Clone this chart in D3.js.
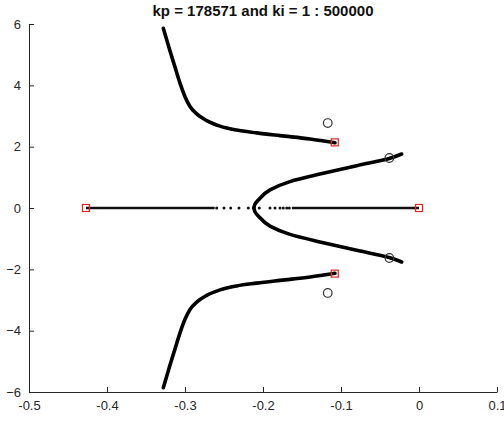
<!DOCTYPE html>
<html>
<head>
<meta charset="utf-8">
<script src="https://cdn.jsdelivr.net/npm/d3@7"></script>
<style>
  body { margin: 0; background: #fff; }
  text { font-family: "Liberation Sans", Arial, sans-serif; }
</style>
</head>
<body>
<div id="chart"></div>
<script>
// set the dimensions and margins of the graph
var margin = {top: 24, right: 7, bottom: 30, left: 29},
    width = 504 - margin.left - margin.right,
    height = 422 - margin.top - margin.bottom;

var titleText = "kp = 178571 and ki = 1 : 500000";
var xTicks = [-0.5, -0.4, -0.3, -0.2, -0.1, 0, 0.1];
var xTickLabels = ["-0.5", "-0.4", "-0.3", "-0.2", "-0.1", "0", "0.1"];
var yTicks = [-6, -4, -2, 0, 2, 4, 6];

// outer branch (upper half), from top down to the pole
var outerX = [-0.3278, -0.3196, -0.3130, -0.3064, -0.3000, -0.2936, -0.2850, -0.2722,
              -0.2551, -0.2337, -0.2081, -0.1782, -0.1397, -0.1077];
var outerY = [5.86, 5.15, 4.61, 4.07, 3.63, 3.31, 3.07, 2.85,
              2.67, 2.54, 2.45, 2.36, 2.25, 2.13];

// inner branch (upper half), from breakaway to end
var innerX = [-0.2115, -0.2102, -0.2060, -0.1910, -0.1654, -0.1227, -0.0799, -0.0372, -0.0222];
var innerY = [0, 0.13, 0.26, 0.59, 0.86, 1.13, 1.38, 1.62, 1.76];

// real axis: dense parts and sparse dots
var axisDense = [[-0.427, -0.262], [-0.163, 0]];
var axisDots = [-0.2594, -0.2500, -0.2414, -0.2308, -0.2188, -0.2124,
                -0.2047, -0.1910, -0.1846, -0.1782, -0.1740, -0.1696, -0.1663];

// poles and zeros
var polesX = [-0.427, 0, -0.108, -0.108];
var polesY = [0, 0, 2.14, -2.14];
var zerosX = [-0.117, -0.117, -0.038, -0.038];
var zerosY = [2.77, -2.77, 1.63, -1.63];

var svg = d3.select("#chart")
  .append("svg")
    .attr("width", width + margin.left + margin.right)
    .attr("height", height + margin.top + margin.bottom)
  .append("g")
    .attr("transform", "translate(" + margin.left + "," + margin.top + ")");

var x = d3.scaleLinear().domain([-0.5, 0.1]).range([0, width]);
var y = d3.scaleLinear().domain([-6, 6]).range([height, 0]);

// axes (MATLAB style: ticks inside)
var xAxis = svg.append("g")
  .attr("transform", "translate(0," + height + ")")
  .call(d3.axisBottom(x).tickValues(xTicks).tickSizeInner(-5).tickSizeOuter(0)
        .tickPadding(9).tickFormat(function(d, i) { return xTickLabels[i]; }));
var yAxis = svg.append("g")
  .call(d3.axisLeft(y).tickValues(yTicks).tickSizeInner(-5).tickSizeOuter(0)
        .tickPadding(8));

[xAxis, yAxis].forEach(function(a) {
  a.selectAll("path, line").attr("stroke", "#262626").attr("stroke-width", 1);
  a.selectAll("text").attr("fill", "#262626").style("font-size", "13px");
});

svg.append("text")
  .attr("x", width / 2)
  .attr("y", -8)
  .attr("text-anchor", "middle")
  .style("font-size", "15px")
  .style("font-weight", "bold")
  .attr("fill", "#111")
  .text(titleText);

var lineX = d3.line()
  .x(function(d) { return x(d[0]); })
  .y(function(d) { return y(d[1]); })
  .curve(d3.curveMonotoneX);

var lineY = d3.line()
  .x(function(d) { return x(d[0]); })
  .y(function(d) { return y(d[1]); })
  .curve(d3.curveMonotoneY);

var outerUp = outerX.map(function(v, i) { return [v, outerY[i]]; });
var outerDown = outerX.map(function(v, i) { return [v, -outerY[i]]; });
// inner branch ordered top to bottom so screen y only grows
var innerUp = innerX.map(function(v, i) { return [v, innerY[i]]; }).reverse();
var innerDown = innerX.map(function(v, i) { return [v, -innerY[i]]; }).slice(1);
var inner = innerUp.concat(innerDown);

// real axis dense parts
svg.selectAll(".dense")
  .data(axisDense)
  .enter()
  .append("line")
    .attr("x1", function(d) { return x(d[0]); })
    .attr("x2", function(d) { return x(d[1]); })
    .attr("y1", y(0))
    .attr("y2", y(0))
    .attr("stroke", "#111")
    .attr("stroke-width", 2.6);

svg.selectAll(".adot")
  .data(axisDots)
  .enter()
  .append("circle")
    .attr("cx", function(d) { return x(d); })
    .attr("cy", y(0))
    .attr("r", 1.5)
    .attr("fill", "#111");

[outerUp, outerDown].forEach(function(pts) {
  svg.append("path")
    .datum(pts)
    .attr("fill", "none")
    .attr("stroke", "#000")
    .attr("stroke-width", 3.6)
    .attr("stroke-linecap", "round")
    .attr("stroke-linejoin", "round")
    .attr("d", lineX);
});

svg.append("path")
  .datum(inner)
  .attr("fill", "none")
  .attr("stroke", "#000")
  .attr("stroke-width", 3.6)
  .attr("stroke-linecap", "round")
  .attr("stroke-linejoin", "round")
  .attr("d", lineY);

// zeros
svg.selectAll(".zero")
  .data(zerosX)
  .enter()
  .append("circle")
    .attr("cx", function(d) { return x(d); })
    .attr("cy", function(d, i) { return y(zerosY[i]); })
    .attr("r", 4.3)
    .attr("fill", "none")
    .attr("stroke", "#333")
    .attr("stroke-width", 1.2);

// poles
svg.selectAll(".pole")
  .data(polesX)
  .enter()
  .append("rect")
    .attr("x", function(d) { return x(d) - 3.5; })
    .attr("y", function(d, i) { return y(polesY[i]) - 3.5; })
    .attr("width", 7)
    .attr("height", 7)
    .attr("fill", "none")
    .attr("stroke", "#e8231f")
    .attr("stroke-width", 1.2);
</script>
</body>
</html>
